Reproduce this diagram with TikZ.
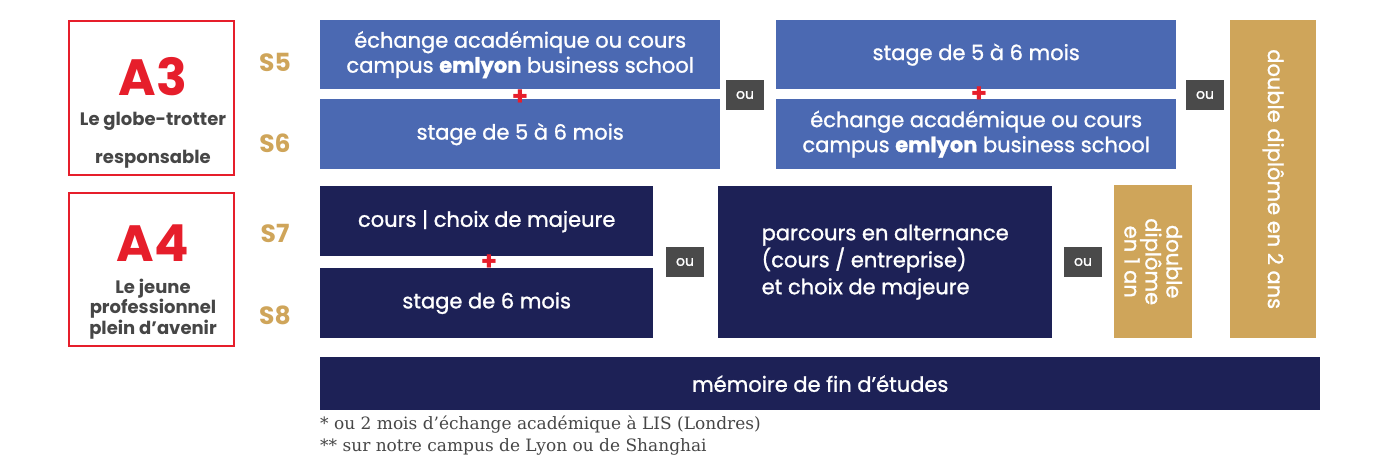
\documentclass[tikz,border=0pt]{standalone}
\usepackage{fontspec}
\setmainfont{Poppins}
\newfontfamily\moyen{Poppins}[FakeBold=1.2]
\newfontfamily\notefont{DejaVu Serif}
\usetikzlibrary{positioning}

\definecolor{embleu}{HTML}{4B69B2}
\definecolor{emnavy}{HTML}{1D2156}
\definecolor{emor}{HTML}{CFA55A}
\definecolor{emrouge}{HTML}{E61E2B}
\definecolor{emgris}{HTML}{4A4A4A}
\definecolor{emtexte}{HTML}{464646}

\tikzset{
  bloc/.style={anchor=north west, inner sep=0pt, text=white, align=center,
    font=\moyen\fontsize{21}{25}\selectfont},
  bleu/.style={bloc, fill=embleu},
  navy/.style={bloc, fill=emnavy},
  or/.style={bloc, fill=emor},
  oubox/.style={fill=emgris, text=white, minimum width=38pt, minimum height=30pt,
    inner sep=0pt, font=\moyen\fontsize{14}{14}\selectfont},
  plus/.style={text=emrouge, inner sep=0pt, font=\bfseries\fontsize{26}{26}\selectfont},
  annee/.style={anchor=north west, draw=emrouge, line width=2pt, inner sep=0pt},
  anneetitre/.style={anchor=base, inner sep=0pt, text depth=0pt, text=emrouge,
    font=\bfseries\fontsize{51}{51}\selectfont},
  semestre/.style={text=emor, font=\bfseries\fontsize{25}{25}\selectfont},
  profil/.style={text=emtexte, align=center, inner sep=0pt,
    font=\bfseries\fontsize{18}{17}\selectfont},
}

\begin{document}
\begin{tikzpicture}[x=1pt,y=-1pt]
    \useasboundingbox (0,0) rectangle (1400,470);

    % Annees A3 / A4
    \node[annee, minimum width=165pt, minimum height=154pt] (a3) at (68,20) {};
    \node[anneetitre] (a3t) at (153,96) {A3};
    \node[profil] (a3l1) at (153,121) {Le globe-trotter};
    \node[profil] (a3l2) at (153,159) {responsable};

    \node[annee, minimum width=165pt, minimum height=153pt] (a4) at (68,192) {};
    \node[anneetitre] (a4t) at (153,262) {A4};
    \node[profil] (a4l) at (153,309) {Le jeune\\professionnel\\plein d’avenir};

    % Semestres
    \foreach \s/\y in {5/62,6/143,7/233,8/315}
        \node[semestre] (s\s) at (275,\y) {S\s};

    % S5-S6, premier choix
    \node[bleu, minimum width=400pt, minimum height=69pt] (echA) at (320,20)
        {échange académique ou cours\\campus {\bfseries emlyon} business school};
    \node[bleu, minimum width=400pt, minimum height=70pt] (stA) at (320,99)
        {stage de 5 à 6 mois};
    \node[plus] (plusA) at (520,98) {+};

    \node[oubox] (ou1) at (745,95) {ou};

    % S5-S6, second choix
    \node[bleu, minimum width=400pt, minimum height=69pt] (stB) at (776,20)
        {stage de 5 à 6 mois};
    \node[bleu, minimum width=400pt, minimum height=70pt] (echB) at (776,99)
        {échange académique ou cours\\campus {\bfseries emlyon} business school};
    \node[plus] (plusB) at (979,95) {+};

    \node[oubox] (ou2) at (1205,95) {ou};

    % double diplome 2 ans
    \node[or, minimum width=86pt, minimum height=318pt] (dd2) at (1230,20) {};
    \node[text=white, rotate=-90, font=\moyen\fontsize{21}{21}\selectfont] (dd2t)
        at (dd2.center) {double diplôme en 2 ans};

    % S7-S8
    \node[navy, minimum width=333pt, minimum height=70pt] (cours) at (320,186)
        {cours | choix de majeure};
    \node[navy, minimum width=333pt, minimum height=70pt] (stC) at (320,268)
        {stage de 6 mois};
    \node[plus] (plusC) at (489,263) {+};

    \node[oubox] (ou3) at (685,262) {ou};

    \node[navy, minimum width=334pt, minimum height=152pt, align=left,
        font=\moyen\fontsize{21}{27}\selectfont] (alt) at (718,186)
        {parcours en alternance\\(cours / entreprise)\\et choix de majeure};

    \node[oubox] (ou4) at (1083,262) {ou};

    % double diplome 1 an
    \node[or, minimum width=78pt, minimum height=153pt] (dd1) at (1114,185) {};
    \node[text=white, rotate=-90, align=center, font=\moyen\fontsize{21}{21}\selectfont]
        (dd1t) at (dd1.center) {double\\diplôme\\en 1 an};

    % memoire
    \node[navy, minimum width=1000pt, minimum height=53pt] (mem) at (320,357)
        {mémoire de fin d’études};

    % notes
    \node[anchor=west, inner sep=0pt, text=emtexte, font=\notefont\fontsize{17}{17}\selectfont]
        (note1) at (320,425) {* ou 2 mois d’échange académique à LIS (Londres)};
    \node[anchor=west, inner sep=0pt, text=emtexte, font=\notefont\fontsize{17}{17}\selectfont]
        (note2) at (320,447) {** sur notre campus de Lyon ou de Shanghai};
\end{tikzpicture}
\end{document}
